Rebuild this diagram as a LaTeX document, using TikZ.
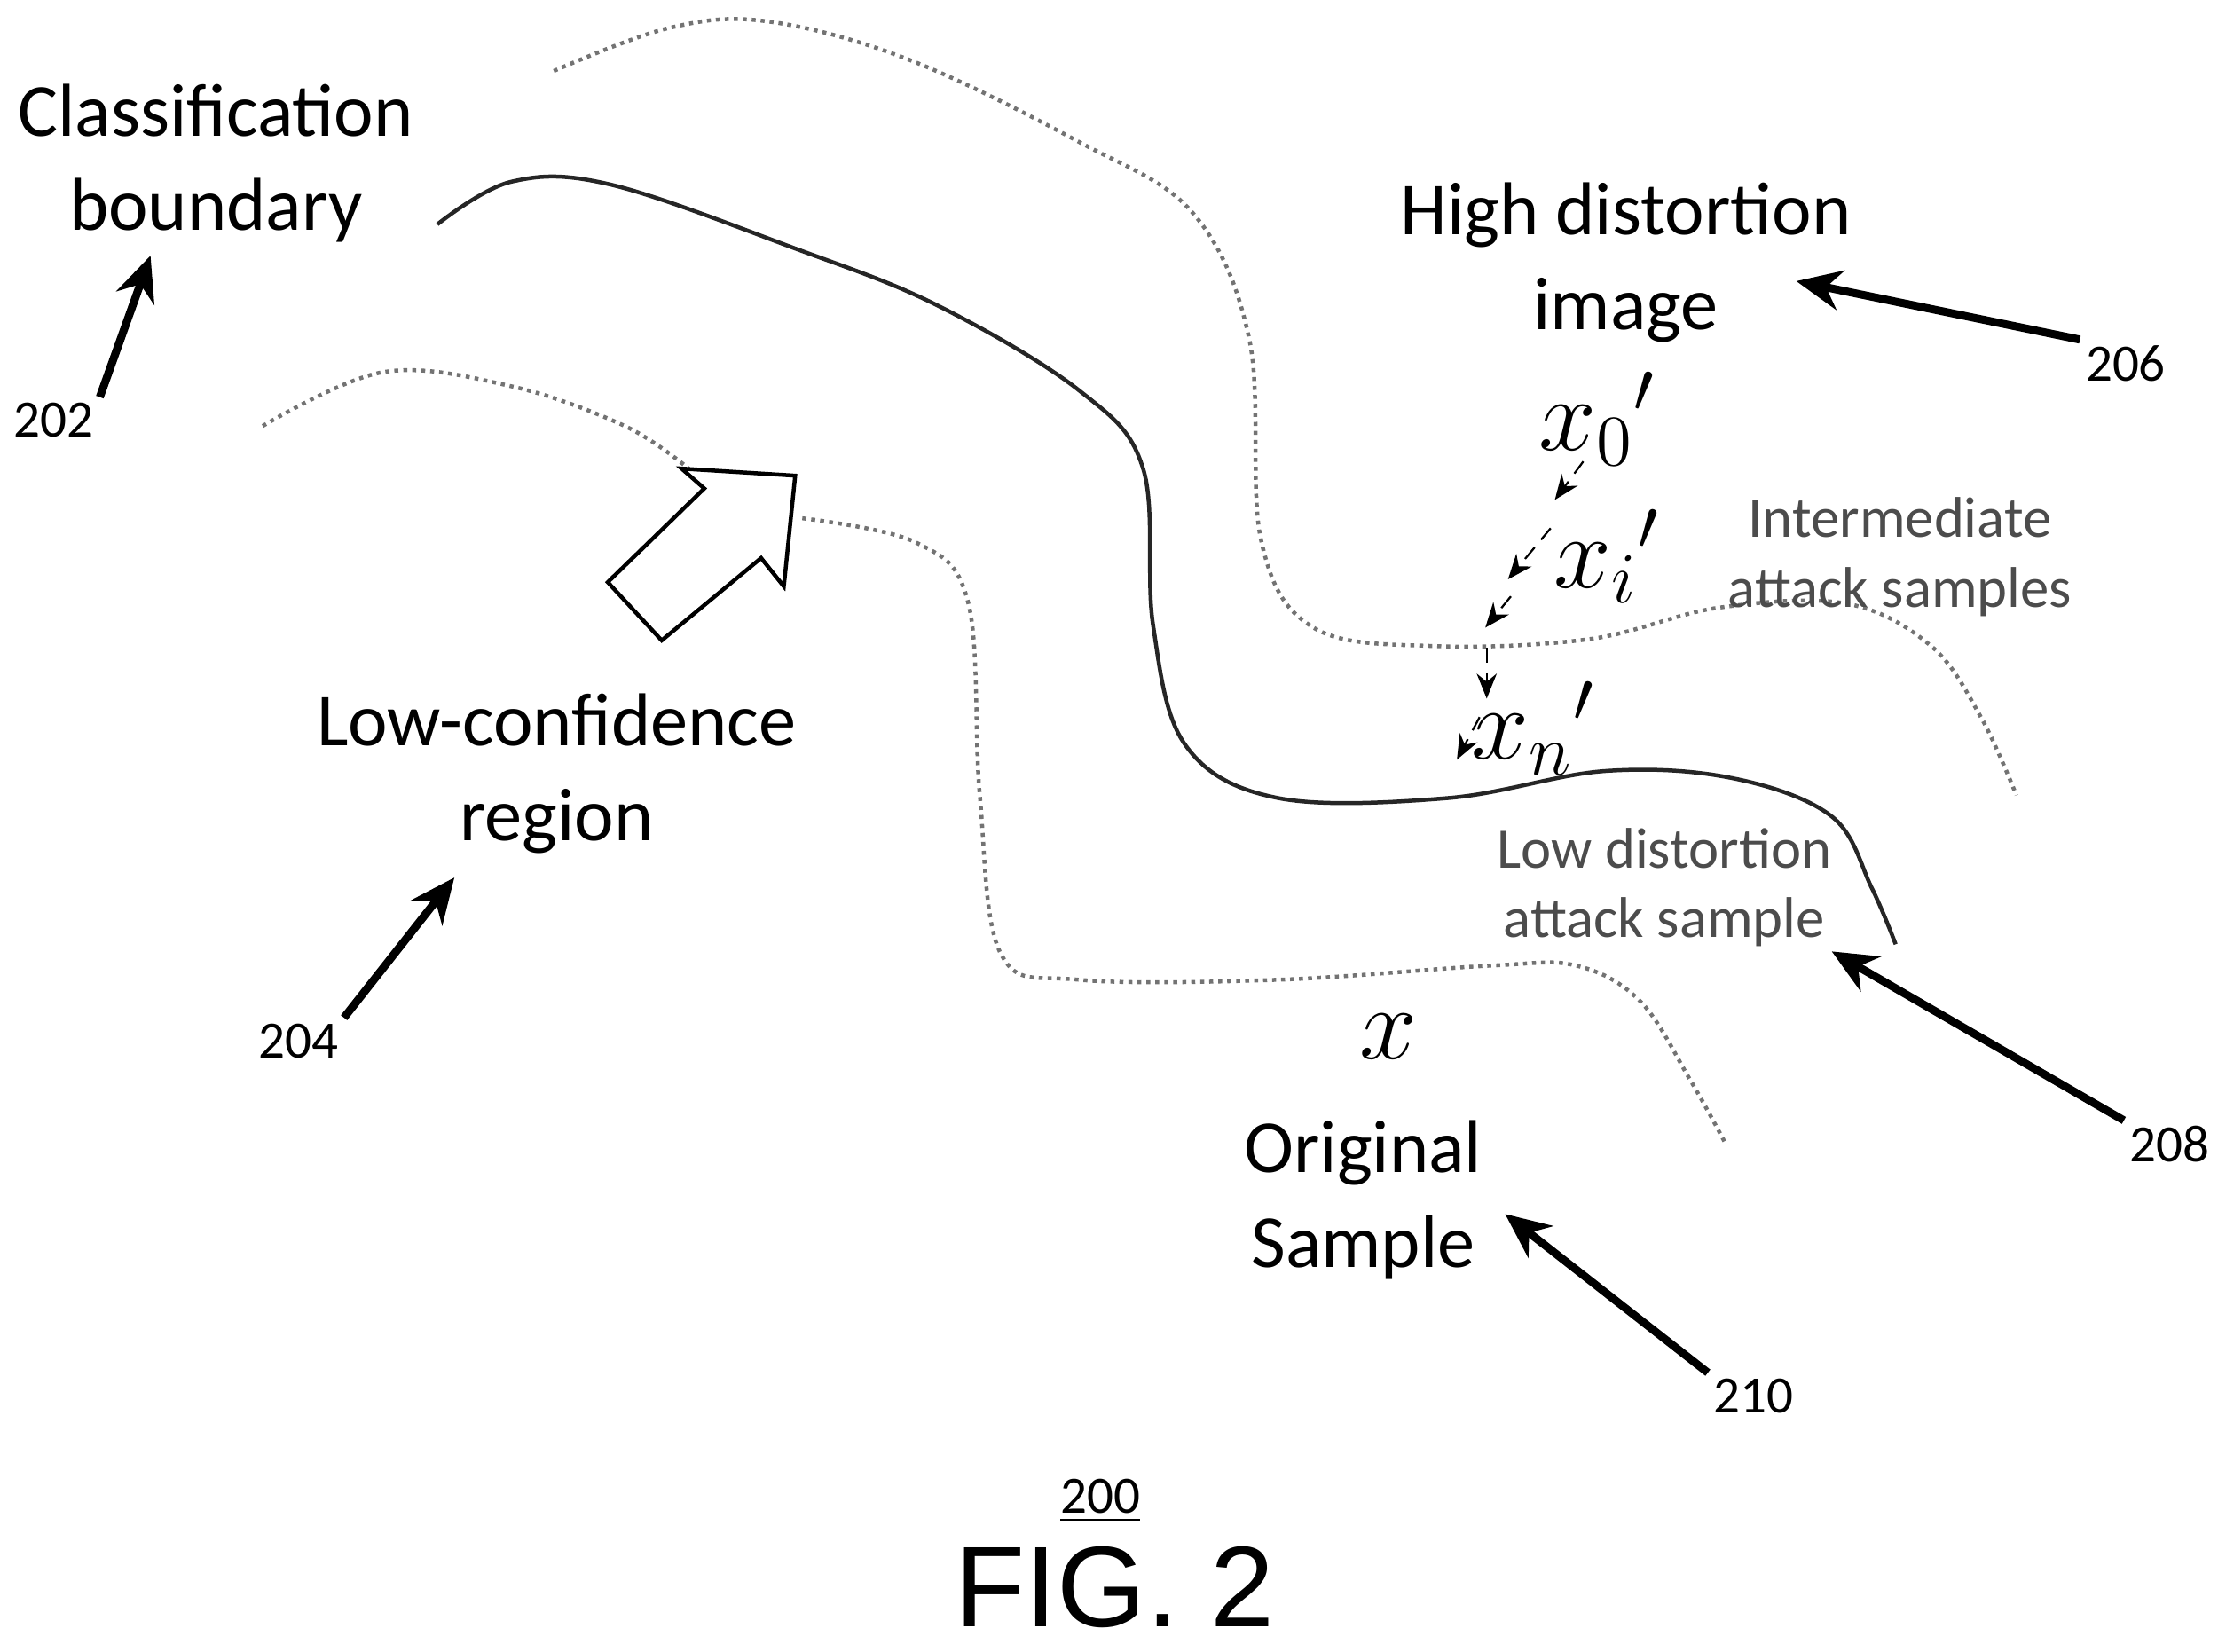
\documentclass[tikz,border=0pt]{standalone}
\usepackage{fontspec}
\setmainfont{Carlito}
\newfontfamily\figfont{Liberation Sans}
\usetikzlibrary{arrows.meta}
\tikzstyle{lbl}=[align=center,font=\fontsize{15}{19}\selectfont,inner sep=1pt]
\tikzstyle{sml}=[align=center,font=\fontsize{11.5}{14}\selectfont,text=black!70,inner sep=1pt]
\tikzstyle{num}=[font=\fontsize{10.5}{12}\selectfont,inner sep=1pt]
\tikzstyle{sym}=[font=\fontsize{21}{24}\selectfont,inner sep=1pt]
\tikzstyle{lead}=[line width=1.6pt,-{Stealth[length=9pt,width=8pt]}]
\tikzstyle{stp}=[densely dashed,thin,-{Stealth[length=5pt,width=4pt]}]
\tikzstyle{bnd}=[densely dotted,black!55,thick]

\begin{document}
\begin{tikzpicture}[x=0.1mm,y=-0.1mm]
\useasboundingbox (0,0) rectangle (1562,1163);
% curves
\draw[thick,black!85] plot[smooth,tension=0.6] coordinates {(308,158) (360,128) (430,130) (560,175) (660,215) (760,275) (805,330) (812,440) (835,525) (900,562) (1020,562) (1130,543) (1220,548) (1290,575) (1318,625) (1335,665)};
\draw[bnd] plot[smooth,tension=0.6] coordinates {(390,50) (470,20) (540,15) (640,42) (760,100) (840,150) (880,240) (888,380) (925,442) (1010,455) (1120,450) (1210,428) (1300,425) (1360,455) (1395,505) (1420,560)};
\draw[bnd] plot[smooth,tension=0.6] coordinates {(185,300) (270,262) (360,272) (440,300) (485,330)};
\draw[bnd] plot[smooth,tension=0.6] coordinates {(565,365) (645,382) (682,425) (690,560) (705,672) (760,690) (900,690) (1050,680) (1110,680) (1155,705) (1190,760) (1215,805)};
% hollow arrow
\draw[thick,fill=white] (428,410) -- (496,344) -- (480,330) -- (560,335) -- (552,413) -- (536,393) -- (466,451) -- cycle;
% labels
\node[lbl] (cb) at (152,115) {Classification\\boundary};
\node[num] (n202) at (38,296) {202};
\node[lbl] (lc) at (392,545) {Low-confidence\\region};
\node[num] (n204) at (210,733) {204};
\node[lbl] (hd) at (1145,185) {High distortion\\image};
\node[num] (n206) at (1497,256) {206};
\node[sym] (x0) at (1125,295) {$x_0{}'$};
\node[sym] (xi) at (1132,392) {$x_i{}'$};
\node[sml] (im) at (1338,392) {Intermediate\\attack samples};
\node[sym] (xn) at (1080,513) {$x_n{}'$};
\node[sml] (ld) at (1172,625) {Low distortion\\attack sample};
\node[num] (n208) at (1528,806) {208};
\node[sym] (x) at (978,730) {$x$};
\node[lbl] (os) at (960,845) {Original\\Sample};
\node[num] (n210) at (1235,983) {210};
\node[font=\fontsize{10.5}{12}\selectfont\rmfamily] (n200) at (775,1057) {\underline{200}};
\node[font=\figfont\fontsize{23}{26}\selectfont] (fig) at (785,1118) {FIG. 2};
% leaders
\coordinate (t202) at (106,180);
\coordinate (t204) at (320,618);
\coordinate (t206) at (1265,198);
\coordinate (t208) at (1290,670);
\coordinate (t210) at (1060,855);
\draw[lead] (n202.north east) -- (t202);
\draw[lead] (n204.north east) -- (t204);
\draw[lead] (n206.north west) -- (t206);
\draw[lead] (n208.north west) -- (t208);
\draw[lead] (n210.north west) -- (t210);
% steps
\coordinate (s1) at (1115,325); \coordinate (s2) at (1095,352);
\coordinate (s3) at (1092,372); \coordinate (s4) at (1062,408);
\coordinate (s5) at (1064,420); \coordinate (s6) at (1046,442);
\coordinate (s7) at (1047,456); \coordinate (s8) at (1047,492);
\coordinate (s9) at (1042,505); \coordinate (s10) at (1026,535);
\draw[stp] (s1) -- (s2);
\draw[stp] (s3) -- (s4);
\draw[stp] (s5) -- (s6);
\draw[stp] (s7) -- (s8);
\draw[stp] (s9) -- (s10);
\end{tikzpicture}
\end{document}
